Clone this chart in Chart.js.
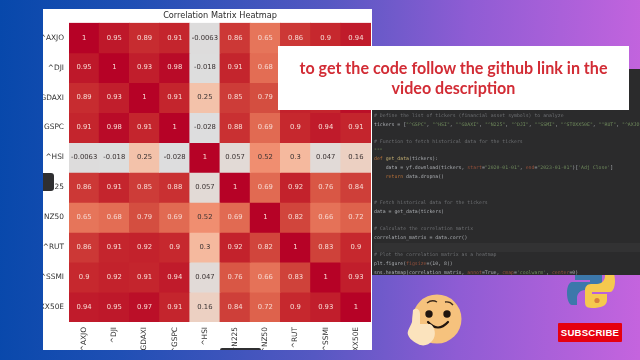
<!DOCTYPE html>
<html><head><meta charset="utf-8">
<script src="https://cdn.jsdelivr.net/npm/chart.js@4"></script>
<style>
html,body{margin:0;padding:0;width:640px;height:360px;overflow:hidden}
body{position:relative;background:linear-gradient(92deg,#0748ab 0%,#1f4fb4 20%,#5558c2 50%,#8f5cd4 72%,#c564de 100%)}
#panel{position:absolute;left:43px;top:9px;width:329px;height:341px;background:#fff}
#panel canvas{filter:blur(.5px)}
#code{position:absolute;left:372px;top:69px;width:268px;height:206px;background:#2b2b2c;overflow:hidden;filter:blur(.5px)}
#code div{position:absolute;left:2px;white-space:pre;font:4.85px/6px "DejaVu Sans Mono",monospace;color:#a9acb0}
#code .c{color:#6c6e71}#code .k{color:#b56f38}#code .s{color:#6f8a5c}#code .o{color:#94503a}#code .f{color:#c4af72}
#hl{position:absolute;left:0;top:174px;width:268px;height:9px;background:#323233}
#banner{position:absolute;left:278px;top:46px;width:351px;height:64px;background:#fff;text-align:center;font:700 16.1px/20px "Lato",sans-serif;color:#d22c35;padding-top:12px;box-sizing:border-box;filter:blur(.25px)}
#sub{position:absolute;left:558px;top:323px;width:64px;height:19px;background:#e6000f;border-radius:1px;color:#fff;font:700 9.6px/19px "Liberation Sans",sans-serif;text-align:center;letter-spacing:.2px}
.d{position:absolute;background:#2f2f31}
svg{position:absolute}
</style></head><body>
<svg style="left:566px;top:262px" width="50" height="50" viewBox="0 0 50 50">
<path d="M24 4c-9 0-15 2-15 8v6h15v2H6c-3 0-5 5-5 11s2 12 5 12h5v-7c0-4 3-8 8-8h11c4 0 6-3 6-6V12c0-5-5-8-12-8z" fill="#3c78ab"/>
<path d="M26 46c9 0 15-2 15-8v-6H26v-2h18c3 0 5-5 5-11s-2-12-5-12h-5v7c0 4-3 8-8 8H25c-4 0-6 3-6 6v10c0 5 0 8 7 8z" fill="#f5c94e"/>
<circle cx="31" cy="38.500" r="2.600" fill="#d9803c"/></svg>
<svg style="left:405px;top:290px" width="66" height="60" viewBox="0 0 66 60">
<circle cx="32" cy="29" r="24.500" fill="#f6c27d"/>
<path d="M22 13q5-4 10-1" fill="none" stroke="#3c2a1c" stroke-width="1.300"/><path d="M40 12q5-1 8 3" fill="none" stroke="#3c2a1c" stroke-width="1.300"/>
<circle cx="24" cy="24" r="3.700" fill="#20150f"/><circle cx="42" cy="24" r="3.700" fill="#20150f"/>
<path d="M23 32q10 11 20 0" fill="none" stroke="#20150f" stroke-width="2.200" stroke-linecap="round"/>
<path d="M8 20c4-3 7 0 7 4v10h10c5 2 7 12 2 17-3 4-9 6-14 3-5-2-12-8-10-13 1-3 3-6 4-9z" fill="#fbe3bd"/>
</svg>
<div id="panel"><canvas id="c" width="329" height="341" style="width:329px;height:341px;display:block"></canvas></div>
<div class="d" style="left:43px;top:173px;width:11px;height:18px;border-radius:0 3px 3px 0"></div>
<div class="d" style="left:220px;top:348px;width:41px;height:2px;border-radius:2px 2px 0 0"></div>
<div id="code">
<div id="hl" style="position:absolute"></div>
<div class="c" style="top:43px"># Define the list of tickers (financial asset symbols) to analyze</div>
<div style="top:52px">tickers = [<span class="s">"^GSPC"</span>, <span class="s">"^HSI"</span>, <span class="s">"^GDAXI"</span>, <span class="s">"^N225"</span>, <span class="s">"^DJI"</span>, <span class="s">"^SSMI"</span>, <span class="s">"^STOXX50E"</span>, <span class="s">"^RUT"</span>, <span class="s">"^AXJO"</span>]</div>
<div class="c" style="top:69px"># Function to fetch historical data for the tickers</div>
<div class="s" style="top:78px">"""</div>
<div style="top:86px"><span class="k">def</span> <span class="f">get_data</span>(tickers):</div>
<div style="top:95px">    data = yf.download(tickers, <span class="o">start</span>=<span class="s">"2020-01-01"</span>, <span class="o">end</span>=<span class="s">"2023-01-01"</span>)[<span class="s">'Adj Close'</span>]</div>
<div style="top:104px">    <span class="k">return</span> data.dropna()</div>
<div class="c" style="top:130px"># Fetch historical data for the tickers</div>
<div style="top:139px">data = get_data(tickers)</div>
<div class="c" style="top:156px"># Calculate the correlation matrix</div>
<div style="top:165px">correlation_matrix = data.corr()</div>
<div class="c" style="top:182px"># Plot the correlation matrix as a heatmap</div>
<div style="top:191px">plt.figure(<span class="o">figsize</span>=(10, 8))</div>
<div style="top:200px">sns.heatmap(correlation_matrix, <span class="o">annot</span>=True, <span class="o">cmap</span>=<span class="s">'coolwarm'</span>, <span class="o">center</span>=0)</div>
</div>
<div id="banner">to get the code follow the github link in the<br>video description</div>
<div id="sub">SUBSCRIBE</div>
<script>
const tickers=["^AXJO","^DJI","^GDAXI","^GSPC","^HSI","^N225","^NZ50","^RUT","^SSMI","^STOXX50E"];
const rowAXJO=[1,0.95,0.89,0.91,-0.0063,0.86,0.65,0.86,0.9,0.94];
const rowDJI=[0.95,1,0.93,0.98,-0.018,0.91,0.68,0.91,0.92,0.95];
const rowGDAXI=[0.89,0.93,1,0.91,0.25,0.85,0.79,0.92,0.91,0.97];
const rowGSPC=[0.91,0.98,0.91,1,-0.028,0.88,0.69,0.9,0.94,0.91];
const rowHSI=[-0.0063,-0.018,0.25,-0.028,1,0.057,0.52,0.3,0.047,0.16];
const rowN225=[0.86,0.91,0.85,0.88,0.057,1,0.69,0.92,0.76,0.84];
const rowNZ50=[0.65,0.68,0.79,0.69,0.52,0.69,1,0.82,0.66,0.72];
const rowRUT=[0.86,0.91,0.92,0.9,0.3,0.92,0.82,1,0.83,0.9];
const rowSSMI=[0.9,0.92,0.91,0.94,0.047,0.76,0.66,0.83,1,0.93];
const rowSTOXX=[0.94,0.95,0.97,0.91,0.16,0.84,0.72,0.9,0.93,1];
const matrix=[rowAXJO,rowDJI,rowGDAXI,rowGSPC,rowHSI,rowN225,rowNZ50,rowRUT,rowSSMI,rowSTOXX];

const stops=[[-0.03,[221,221,222]],[0,[221,220,220]],[0.06,[226,218,214]],[0.16,[236,208,194]],[0.25,[243,194,170]],[0.3,[245,185,158]],[0.52,[240,142,112]],[0.65,[230,117,90]],[0.72,[222,98,76]],[0.8,[211,75,62]],[0.85,[205,60,56]],[0.9,[198,40,46]],[0.95,[190,24,42]],[1,[182,2,38]]];
function colour(v){
  for(let i=1;i<stops.length;i++){
    if(v<=stops[i][0]){
      const [a,ca]=stops[i-1],[b,cb]=stops[i],t=Math.max(0,(v-a)/(b-a));
      return `rgb(${ca.map((c,k)=>Math.round(c+(cb[k]-c)*t)).join(',')})`;
    }
  }
  return 'rgb(182,2,38)';
}
const cellLabels={id:'cellLabels',afterDatasetsDraw(chart){
  const {ctx}=chart;ctx.save();ctx.font='6.8px "DejaVu Sans"';ctx.textAlign='center';ctx.textBaseline='middle';
  matrix.forEach((row,r)=>{const meta=chart.getDatasetMeta(r);row.forEach((v,c)=>{
    const el=meta.data[c];ctx.fillStyle=v>0.6?'#f6d9d2':'#3a3232';
    ctx.fillText(String(v),el.x,(el.y+el.base)/2);
  });});ctx.restore();
}};
new Chart(document.getElementById('c'),{
  type:'bar',
  data:{labels:tickers,datasets:matrix.map((row,r)=>({
    label:tickers[r],
    data:row.map(()=>[r,r+1]),
    backgroundColor:row.map(colour),
    borderWidth:0,inflateAmount:0.4,
    barPercentage:1,categoryPercentage:1,
    yAxisID:'y'
  }))},
  plugins:[cellLabels],
  options:{
    responsive:false,animation:false,
    layout:{padding:{left:0,right:1,top:0,bottom:0}},
    plugins:{legend:{display:false},tooltip:{enabled:false},
      title:{display:true,fullSize:false,text:'Correlation Matrix Heatmap',color:'#2a2a2a',font:{family:'DejaVu Sans',size:8.2,weight:'normal'},padding:{top:2,bottom:2}}},
    scales:{
      x:{stacked:true,grid:{display:false,drawTicks:true,tickLength:3,tickColor:'#555'},border:{display:false},
        ticks:{color:'#333',font:{family:'DejaVu Sans',size:7.4},minRotation:90,maxRotation:90,padding:2,autoSkip:false},
        afterFit(s){s.height=28;}},
      y:{type:'linear',reverse:true,min:0,max:10,display:false},
      yLabels:{type:'category',labels:tickers,offset:true,position:'left',grid:{display:false,tickLength:3,tickColor:'#555'},border:{display:false},
        ticks:{color:'#333',font:{family:'DejaVu Sans',size:7.4},padding:2,autoSkip:false},
        afterFit(s){s.width=26;}}
    }
  }
});
</script>
</body></html>
